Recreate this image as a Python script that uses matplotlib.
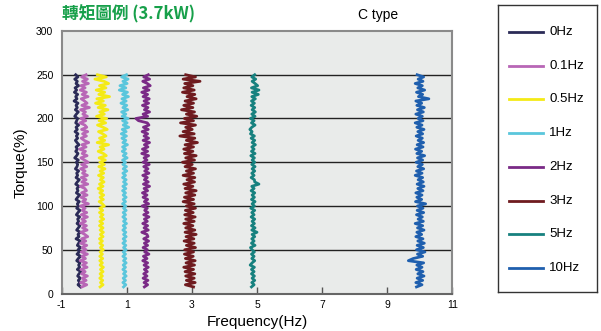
import numpy as np
import matplotlib as mpl
import matplotlib.pyplot as plt

mpl.use('Agg')
plt.rcParams['font.family'] = ['Liberation Sans', 'DejaVu Sans']
plt.rcParams['axes.unicode_minus'] = False

# Series: label, centre frequency (Hz), colour
labels = ['0Hz', '0.1Hz', '0.5Hz', '1Hz', '2Hz', '3Hz', '5Hz', '10Hz']
centres = [-0.48, -0.33, 0.22, 0.93, 1.58, 2.93, 4.88, 10.0]
colors = ['#2b2b57', '#b866b6', '#f4ea16', '#5ac6dc', '#7a2a86', '#6f1b1f', '#17817f', '#1f5fae']

# torque samples, top to bottom (%), every 2.5 %
torque = [250 - 2.5 * i for i in range(98)]

# frequency jitter, in 0.01 Hz
jit_0 = [-9, -2, -12, -4, -8, 0, -11, -6, -13, -3, -9, -5, -14, -2,
         -8, -4, -10, -1, -7, -12, -3, -6, -9, 0, -8, -4, -11, -2,
         -7, -3, -10, -5, 1, -8, -4, -9, -2, -6, -12, -1, -7, -3,
         -5, -10, 0, -6, -3, -8, 2, -4, -9, 1, -5, -2, -7, 3,
         -3, -8, 2, -4, -1, -6, 4, -2, -7, 3, -3, 0, -5, 4,
         -1, -6, 5, -2, 1, -8, 5, 0, -4, 6, -2, 2, -5, 6,
         -1, -6, 4, 0, 3, -4, 7, 1, -3, 5, -1, 4, -2, 6]
jit_01 = [8, -6, 12, -3, 15, -8, 5, -10, 9, -4, 14, -7, 3, 11,
          -5, 18, -9, 6, -2, 12, -8, 7, -11, 4, 10, -6, 13, -3,
          9, -7, 2, 16, -5, 8, -12, 6, -4, 11, -8, 3, 14, -6,
          10, -9, 5, -3, 12, -7, 8, -5, 13, -10, 4, 9, -6, 11,
          -8, 7, -3, 15, -9, 5, -4, 10, -7, 12, -5, 6, -10, 9,
          -3, 11, -8, 4, 13, -6, 7, -9, 10, -4, 8, -7, 12, -5,
          6, -10, 9, -3, 11, -8, 5, -6, 12, -4, 8, -9, 10, -5]
jit_05 = [-12, 15, -20, 8, 22, -6, 14, -16, 10, -8, 25, -14, 6, -18,
          12, -10, 20, -5, 9, -15, 16, -7, 13, -12, 5, 18, -9, 4,
          14, -6, 10, -13, 22, -4, 8, -10, 6, 15, -7, 12, -5, 9,
          -8, 11, -4, 7, -9, 6, -3, 8, -6, 5, -10, 4, -5, 7,
          -4, 6, -7, 3, 9, -5, 4, -6, 5, -3, 7, -5, 4, -6,
          5, -4, 6, -3, 5, -6, 3, -5, 4, -3, 6, -4, 3, -5,
          4, -5, 3, -4, 6, -3, 5, -4, 3, -5, 4, -3, 5, -4]
jit_1 = [6, -9, 11, -5, 8, -14, 4, -16, 9, -6, 12, -8, 5, -11,
         7, -5, 10, -9, 4, -7, 11, -6, 8, -4, 13, -7, 5, -10,
         6, -8, 4, -5, 9, -6, 3, -7, 5, -4, 8, -6, 3, -5,
         6, -4, 7, -5, 3, -6, 5, -3, 6, -5, 4, -6, 3, -4,
         5, -4, 3, -6, 4, -3, 5, -4, 3, -5, 4, -3, 6, -4,
         3, -5, 4, -3, 5, -4, 3, -5, 4, -3, 5, -4, 3, -5,
         4, -3, 5, -4, 3, -5, 4, -3, 5, -4, 3, -5, 4, -3]
jit_2 = [8, -6, 12, -9, 5, 14, -7, 10, -12, 6, -8, 11, -5, 9,
         -10, 7, -4, 12, -8, 6, -30, -22, 5, 10, -7, 8, -11, 6,
         -5, 9, -8, 12, -4, 7, -10, 6, -12, 9, -5, 4, -8, 11,
         -6, 7, -3, 10, -9, 5, -4, 8, -7, 12, -5, 6, -10, 4,
         -8, 6, -4, 9, -11, 5, -3, 7, -6, 10, -4, 5, -9, 6,
         -5, 8, -12, 4, 7, -6, 9, -4, 6, -8, 5, -3, 10, -7,
         4, -9, 6, -5, 8, -4, 5, -6, 4, -8, 7, -5, 6, -4]
jit_3 = [-12, 18, -20, 32, -15, 10, -18, 14, -22, 16, -8, 20, -14, 12,
         -18, 10, -25, 15, -10, 22, -16, 12, -28, 18, -12, 8, -20, 14,
         -30, 16, -10, 24, -14, 12, -18, 10, -16, 20, -12, 15, -22, 8,
         -14, 18, -10, 12, -20, 16, -8, 15, -18, 10, -14, 20, -12, 16,
         -16, 12, -20, 14, -10, 18, -13, 11, -15, 17, -12, 14, -18, 10,
         -12, 16, -14, 20, -11, 13, -17, 14, -10, 18, -15, 12, -16, 11,
         -13, 17, -11, 15, -18, 12, -14, 16, -12, 14, -10, 17, -13, 12]
jit_5 = [5, -4, 8, -3, 6, 14, -5, 18, -3, 16, -4, 7, -5, 4,
         -6, 5, -3, 7, -4, 6, -8, 3, -5, 6, -4, -10, -3, -8,
         4, -6, 5, -3, 7, -4, 3, -5, 6, -7, 4, -3, 5, -4,
         6, -3, 5, -4, 3, -6, 4, 5, 18, -4, 3, -6, 5, -3,
         4, -5, 6, -3, 4, -7, 5, -4, 3, -6, 5, -3, 4, -5,
         6, -4, 12, -3, 5, -4, 3, -5, 6, -8, -3, 4, -5, 3,
         -4, 5, -3, -9, 4, -5, 3, -5, 4, -3, 5, -4, 3, -5]
jit_10 = [-8, 12, -5, 10, -14, 8, -6, 15, -10, 9, -4, 28, -12, 6,
          -9, 14, -7, 11, -12, 8, -5, 10, -14, 7, -9, 13, -6, 9,
          -11, 8, -5, 12, -8, 10, -13, 6, -9, 15, -7, 9, -11, 8,
          -6, 12, -10, 7, -14, 9, -5, 11, -8, 13, -6, 10, -12, 7,
          -9, 6, -13, 18, -7, 10, -8, 12, -10, 8, -5, 11, -14, 9,
          -7, 13, -9, 6, -12, 10, -6, 14, -8, 11, -10, 16, -7, 9,
          -20, -35, 12, -9, 7, -11, 10, -6, 13, -8, 9, -12, 7, -10]
jitters = [jit_0, jit_01, jit_05, jit_1, jit_2, jit_3, jit_5, jit_10]

fig = plt.figure(figsize=(6.01, 3.31), dpi=100)
ax = fig.add_axes([61.7 / 601, 1 - 293.5 / 331, 390.6 / 601, 262.5 / 331])
ax.set_facecolor('#e9ebea')

for c, jit, col in zip(centres, jitters, colors):
    x = c + np.array(jit) / 100.0
    ax.plot(x, torque, color=col, lw=2.0)

ax.set_xlim(-1, 11)
ax.set_ylim(0, 300)
ax.set_xticks([-1, 1, 3, 5, 7, 9, 11])
ax.set_yticks([0, 50, 100, 150, 200, 250, 300])
for yv in [50, 100, 150, 200, 250]:
    ax.axhline(yv, color='#222222', lw=1.0, zorder=0.5)
ax.tick_params(axis='x', direction='in', length=5, width=1, color='#555555', labelsize=7.5, pad=5)
ax.tick_params(axis='y', length=0, labelsize=7.5, pad=6)
for sp in ax.spines.values():
    sp.set_color('#8a8a8a')
    sp.set_linewidth(1.5)
ax.spines['bottom'].set_color('#666666')

ax.set_xlabel('Frequency(Hz)', fontsize=11, labelpad=3)
ax.set_ylabel('Torque(%)', fontsize=11, labelpad=6)

fig.text(62 / 601, 1 - 14 / 331, '轉矩圖例 (3.7kW)', color='#17a04a', fontsize=12, fontweight='bold',
         va='center', ha='left', family=['Noto Sans CJK TC', 'DejaVu Sans'])
fig.text(378 / 601, 1 - 15 / 331, 'C type', fontsize=10, va='center', ha='center')

# legend box drawn by hand
lax = fig.add_axes([498 / 601, 1 - 292 / 331, 99 / 601, 287 / 331])
lax.set_xlim(0, 99)
lax.set_ylim(287, 0)
lax.set_xticks([])
lax.set_yticks([])
for sp in lax.spines.values():
    sp.set_color('#333333')
    sp.set_linewidth(1.0)
for i, (lab, col) in enumerate(zip(labels, colors)):
    yy = 27 + i * 33.7
    lax.plot([11, 45], [yy, yy], color=col, lw=2)
    lax.text(51, yy, lab, fontsize=9.5, va='center', ha='left')

plt.savefig('out.png', dpi=100)
